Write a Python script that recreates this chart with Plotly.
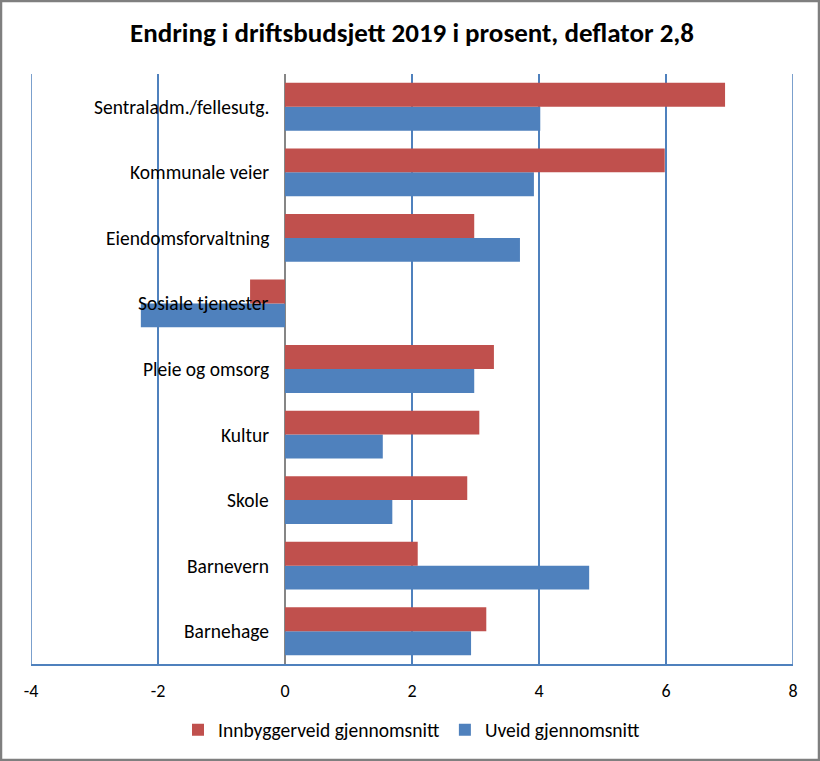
import plotly.graph_objects as go

categories = ["Barnehage", "Barnevern", "Skole", "Kultur", "Pleie og omsorg",
              "Sosiale tjenester", "Eiendomsforvaltning", "Kommunale veier",
              "Sentraladm./fellesutg."]
innbyggerveid = [3.17, 2.09, 2.87, 3.06, 3.29, -0.55, 2.98, 5.98, 6.93]
uveid = [2.93, 4.79, 1.69, 1.54, 2.98, -2.27, 3.70, 3.92, 4.02]
x_ticks = [-4, -2, 0, 2, 4, 6, 8]

RED = "#c0504d"
BLUE = "#4f81bd"
FONT = "Carlito, Calibri, 'Liberation Sans Narrow', 'Open Sans', sans-serif"

fig = go.Figure()
fig.add_trace(go.Bar(y=categories, x=uveid, orientation="h", name="Uveid gjennomsnitt",
                     marker=dict(color=BLUE, line=dict(width=0)), legendrank=2))
fig.add_trace(go.Bar(y=categories, x=innbyggerveid, orientation="h",
                     name="Innbyggerveid gjennomsnitt",
                     marker=dict(color=RED, line=dict(width=0)), legendrank=1))

for c in categories:
    fig.add_annotation(x=0, y=c, xref="x", yref="y", text=c, showarrow=False,
                       xanchor="right", yanchor="middle", xshift=-14,
                       font=dict(size=19.5, color="#000000", family=FONT))

# edge gridlines (plotly omits gridlines at the range ends)
for xv in (x_ticks[0], x_ticks[-1]):
    fig.add_shape(type="line", xref="x", yref="paper", x0=xv, x1=xv, y0=0, y1=1,
                  line=dict(color=BLUE, width=1.5), layer="below")

L, R, T, B = 31, 27, 74, 97
W, H = 820, 761
pw, ph = W - L - R, H - T - B
fig.add_shape(type="rect", xref="paper", yref="paper",
              x0=-(L - 1) / pw, x1=1 + (R - 1) / pw, y0=-(B - 1) / ph, y1=1 + (T - 1) / ph,
              line=dict(color="#7f7f7f", width=2.5), fillcolor="rgba(0,0,0,0)", layer="above")

fig.update_layout(
    width=W, height=H,
    margin=dict(l=L, r=R, t=T, b=B),
    paper_bgcolor="white", plot_bgcolor="white",
    barmode="group", bargap=0.27, bargroupgap=0,
    title=dict(text="<b>Endring i driftsbudsjett 2019 i prosent, deflator 2,8</b>",
               x=0.5, xanchor="center", xref="paper", y=1 - 33 / H, yanchor="middle",
               font=dict(size=27, color="#000000", family=FONT)),
    font=dict(family=FONT, color="#000000"),
    showlegend=True,
    legend=dict(orientation="h", x=0.5, xanchor="center", y=(664 - 730) / ph,
                yanchor="middle", font=dict(size=19.5, family=FONT), itemwidth=30,
                traceorder="normal"),
    xaxis=dict(range=[-4, 8], tickvals=x_ticks, ticktext=[str(v) for v in x_ticks],
               showgrid=True, gridcolor=BLUE, gridwidth=1.5,
               zeroline=True, zerolinecolor="#868686", zerolinewidth=1.5,
               showline=True, linecolor=BLUE, linewidth=1.5,
               ticks="", ticklabelstandoff=10, tickfont=dict(size=18, family=FONT)),
    yaxis=dict(showticklabels=False, showgrid=False, zeroline=False, showline=False,
               range=[-0.5, 8.5]),
)

fig.write_html("out.html", config={"displayModeBar": False},
               post_script="document.body.style.margin='0';")
